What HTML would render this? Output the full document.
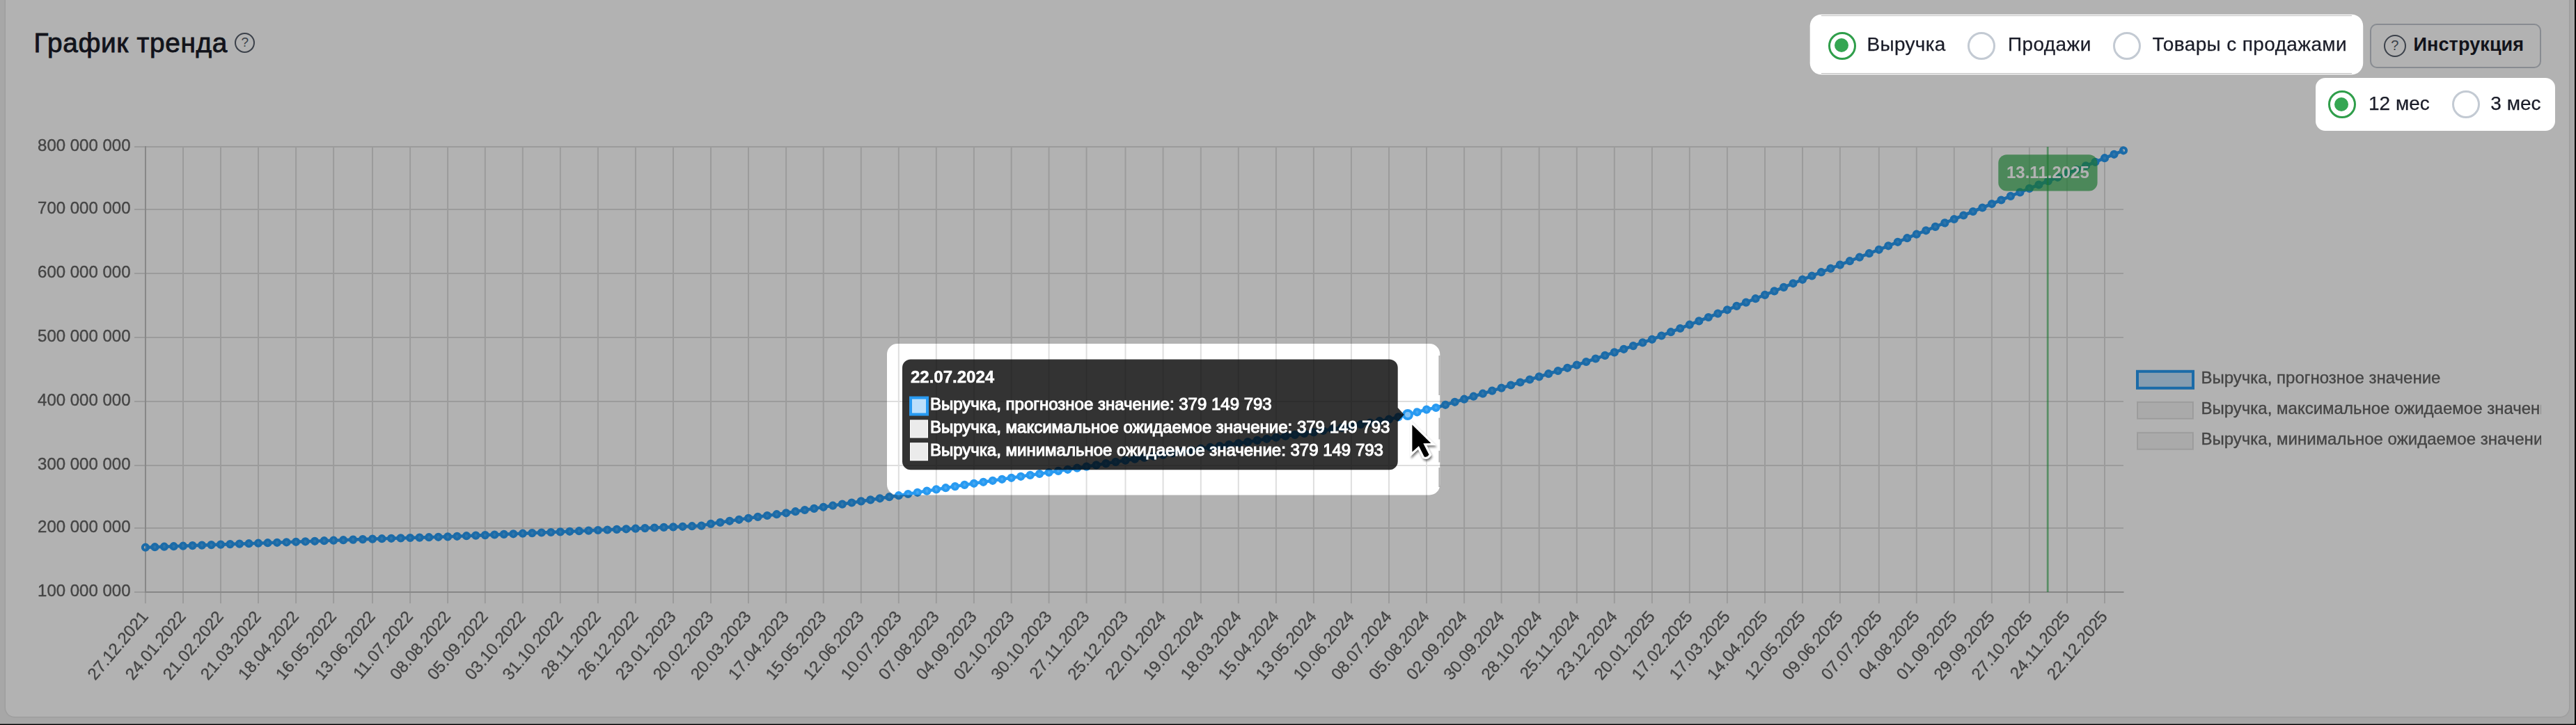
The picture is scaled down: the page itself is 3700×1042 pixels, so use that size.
<!DOCTYPE html>
<html lang="ru"><head><meta charset="utf-8"><title>График тренда</title>
<style>
html,body{margin:0;padding:0}
body{width:3700px;height:1042px;overflow:hidden;position:relative;background:#f0f0f0;font-family:"Liberation Sans",sans-serif}
.abs{position:absolute;left:0;top:0;will-change:transform}
.card{position:absolute;left:7.7px;top:-40px;width:3682.3px;height:1070.2px;background:#fff;border-radius:13px;box-shadow:0 0 3px rgba(0,0,0,0.18)}
.ttl{position:absolute;left:48.4px;top:39.2px;font-size:38.8px;line-height:46px;color:#1a1c28;letter-spacing:0.68px;-webkit-text-stroke:0.85px #1a1c28;white-space:nowrap}
.hic{position:absolute;box-sizing:border-box;border-radius:50%;border:2.6px solid #565e6b;color:#565e6b;text-align:center}
.rd{position:absolute;box-sizing:border-box;width:40px;height:40px;border-radius:50%;border:3.5px solid #c3cad3;background:#fff}
.rd.on{border-color:#2f9e4a}
.rd.on i{position:absolute;left:6.5px;top:6.5px;width:20px;height:20px;border-radius:50%;background:#35a652}
.lb{position:absolute;white-space:nowrap;color:#1a1c28;-webkit-text-stroke:0.25px #1a1c28}
.btn{position:absolute;box-sizing:border-box;left:3404px;top:34px;width:246px;height:64px;border:2px solid #c3c8d0;border-radius:10px;background:#fff}
.bl{position:absolute;left:0;top:1040px;width:3700px;height:2px;background:linear-gradient(rgba(0,0,0,0.45) 0,rgba(0,0,0,0.45) 50%,#000 50%,#000 100%)}
.br{position:absolute;left:3698px;top:0;width:2px;height:1042px;background:#000}
</style></head><body>
<div class="card"></div>
<div class="ttl">График тренда</div>
<div class="hic" style="left:337.2px;top:47.3px;width:29px;height:29px;font-size:19px;line-height:23.5px">?</div>
<svg class="abs" width="3700" height="1042" viewBox="0 0 3700 1042" style="font-family:'Liberation Sans',sans-serif">
<defs><clipPath id="cv"><rect x="0" y="0" width="3650" height="1042"/></clipPath></defs>
<path d="M208.9 211.0V867.3M263.0 211.0V867.3M317.0 211.0V867.3M371.0 211.0V867.3M425.1 211.0V867.3M479.1 211.0V867.3M535.0 211.0V867.3M589.1 211.0V867.3M643.1 211.0V867.3M696.8 211.0V867.3M750.8 211.0V867.3M804.8 211.0V867.3M858.9 211.0V867.3M912.9 211.0V867.3M967.0 211.0V867.3M1021.0 211.0V867.3M1075.0 211.0V867.3M1129.1 211.0V867.3M1182.7 211.0V867.3M1236.8 211.0V867.3M1290.8 211.0V867.3M1344.8 211.0V867.3M1398.9 211.0V867.3M1452.7 211.0V867.3M1506.6 211.0V867.3M1560.6 211.0V867.3M1616.5 211.0V867.3M1670.6 211.0V867.3M1724.8 211.0V867.3M1778.8 211.0V867.3M1832.9 211.0V867.3M1886.9 211.0V867.3M1940.9 211.0V867.3M1995.0 211.0V867.3M2049.0 211.0V867.3M2103.1 211.0V867.3M2156.6 211.0V867.3M2210.7 211.0V867.3M2264.8 211.0V867.3M2318.8 211.0V867.3M2372.9 211.0V867.3M2426.8 211.0V867.3M2480.9 211.0V867.3M2535.0 211.0V867.3M2589.0 211.0V867.3M2642.9 211.0V867.3M2698.8 211.0V867.3M2752.8 211.0V867.3M2806.8 211.0V867.3M2860.9 211.0V867.3M2914.9 211.0V867.3M2969.0 211.0V867.3M3023.0 211.0V867.3M193.0 851.0H3050.0M193.0 759.0H3050.0M193.0 669.0H3050.0M193.0 577.0H3050.0M193.0 484.9H3050.0M193.0 392.9H3050.0M193.0 301.0H3050.0M193.0 211.0H3050.0" stroke="rgba(0,0,0,0.13)" stroke-width="2" fill="none"/>
<path d="M209.0 210V852M208.0 851H3051.0" stroke="rgba(0,0,0,0.13)" stroke-width="2" fill="none"/>
<text x="187.5" y="857.3" text-anchor="end" font-size="24" fill="#636363" stroke="#636363" stroke-width="0.35">100 000 000</text>
<text x="187.5" y="765.3" text-anchor="end" font-size="24" fill="#636363" stroke="#636363" stroke-width="0.35">200 000 000</text>
<text x="187.5" y="675.3" text-anchor="end" font-size="24" fill="#636363" stroke="#636363" stroke-width="0.35">300 000 000</text>
<text x="187.5" y="583.3" text-anchor="end" font-size="24" fill="#636363" stroke="#636363" stroke-width="0.35">400 000 000</text>
<text x="187.5" y="491.2" text-anchor="end" font-size="24" fill="#636363" stroke="#636363" stroke-width="0.35">500 000 000</text>
<text x="187.5" y="399.2" text-anchor="end" font-size="24" fill="#636363" stroke="#636363" stroke-width="0.35">600 000 000</text>
<text x="187.5" y="307.3" text-anchor="end" font-size="24" fill="#636363" stroke="#636363" stroke-width="0.35">700 000 000</text>
<text x="187.5" y="217.3" text-anchor="end" font-size="24" fill="#636363" stroke="#636363" stroke-width="0.35">800 000 000</text>
<text transform="translate(196.6,872) rotate(-50)" x="0" y="22.8" text-anchor="end" font-size="24" fill="#636363" stroke="#636363" stroke-width="0.35">27.12.2021</text>
<text transform="translate(250.7,872) rotate(-50)" x="0" y="22.8" text-anchor="end" font-size="24" fill="#636363" stroke="#636363" stroke-width="0.35">24.01.2022</text>
<text transform="translate(304.7,872) rotate(-50)" x="0" y="22.8" text-anchor="end" font-size="24" fill="#636363" stroke="#636363" stroke-width="0.35">21.02.2022</text>
<text transform="translate(358.7,872) rotate(-50)" x="0" y="22.8" text-anchor="end" font-size="24" fill="#636363" stroke="#636363" stroke-width="0.35">21.03.2022</text>
<text transform="translate(412.8,872) rotate(-50)" x="0" y="22.8" text-anchor="end" font-size="24" fill="#636363" stroke="#636363" stroke-width="0.35">18.04.2022</text>
<text transform="translate(466.8,872) rotate(-50)" x="0" y="22.8" text-anchor="end" font-size="24" fill="#636363" stroke="#636363" stroke-width="0.35">16.05.2022</text>
<text transform="translate(522.7,872) rotate(-50)" x="0" y="22.8" text-anchor="end" font-size="24" fill="#636363" stroke="#636363" stroke-width="0.35">13.06.2022</text>
<text transform="translate(576.8,872) rotate(-50)" x="0" y="22.8" text-anchor="end" font-size="24" fill="#636363" stroke="#636363" stroke-width="0.35">11.07.2022</text>
<text transform="translate(630.8,872) rotate(-50)" x="0" y="22.8" text-anchor="end" font-size="24" fill="#636363" stroke="#636363" stroke-width="0.35">08.08.2022</text>
<text transform="translate(684.5,872) rotate(-50)" x="0" y="22.8" text-anchor="end" font-size="24" fill="#636363" stroke="#636363" stroke-width="0.35">05.09.2022</text>
<text transform="translate(738.5,872) rotate(-50)" x="0" y="22.8" text-anchor="end" font-size="24" fill="#636363" stroke="#636363" stroke-width="0.35">03.10.2022</text>
<text transform="translate(792.5,872) rotate(-50)" x="0" y="22.8" text-anchor="end" font-size="24" fill="#636363" stroke="#636363" stroke-width="0.35">31.10.2022</text>
<text transform="translate(846.6,872) rotate(-50)" x="0" y="22.8" text-anchor="end" font-size="24" fill="#636363" stroke="#636363" stroke-width="0.35">28.11.2022</text>
<text transform="translate(900.6,872) rotate(-50)" x="0" y="22.8" text-anchor="end" font-size="24" fill="#636363" stroke="#636363" stroke-width="0.35">26.12.2022</text>
<text transform="translate(954.7,872) rotate(-50)" x="0" y="22.8" text-anchor="end" font-size="24" fill="#636363" stroke="#636363" stroke-width="0.35">23.01.2023</text>
<text transform="translate(1008.7,872) rotate(-50)" x="0" y="22.8" text-anchor="end" font-size="24" fill="#636363" stroke="#636363" stroke-width="0.35">20.02.2023</text>
<text transform="translate(1062.7,872) rotate(-50)" x="0" y="22.8" text-anchor="end" font-size="24" fill="#636363" stroke="#636363" stroke-width="0.35">20.03.2023</text>
<text transform="translate(1116.8,872) rotate(-50)" x="0" y="22.8" text-anchor="end" font-size="24" fill="#636363" stroke="#636363" stroke-width="0.35">17.04.2023</text>
<text transform="translate(1170.4,872) rotate(-50)" x="0" y="22.8" text-anchor="end" font-size="24" fill="#636363" stroke="#636363" stroke-width="0.35">15.05.2023</text>
<text transform="translate(1224.5,872) rotate(-50)" x="0" y="22.8" text-anchor="end" font-size="24" fill="#636363" stroke="#636363" stroke-width="0.35">12.06.2023</text>
<text transform="translate(1278.5,872) rotate(-50)" x="0" y="22.8" text-anchor="end" font-size="24" fill="#636363" stroke="#636363" stroke-width="0.35">10.07.2023</text>
<text transform="translate(1332.5,872) rotate(-50)" x="0" y="22.8" text-anchor="end" font-size="24" fill="#636363" stroke="#636363" stroke-width="0.35">07.08.2023</text>
<text transform="translate(1386.6,872) rotate(-50)" x="0" y="22.8" text-anchor="end" font-size="24" fill="#636363" stroke="#636363" stroke-width="0.35">04.09.2023</text>
<text transform="translate(1440.4,872) rotate(-50)" x="0" y="22.8" text-anchor="end" font-size="24" fill="#636363" stroke="#636363" stroke-width="0.35">02.10.2023</text>
<text transform="translate(1494.3,872) rotate(-50)" x="0" y="22.8" text-anchor="end" font-size="24" fill="#636363" stroke="#636363" stroke-width="0.35">30.10.2023</text>
<text transform="translate(1548.3,872) rotate(-50)" x="0" y="22.8" text-anchor="end" font-size="24" fill="#636363" stroke="#636363" stroke-width="0.35">27.11.2023</text>
<text transform="translate(1604.2,872) rotate(-50)" x="0" y="22.8" text-anchor="end" font-size="24" fill="#636363" stroke="#636363" stroke-width="0.35">25.12.2023</text>
<text transform="translate(1658.3,872) rotate(-50)" x="0" y="22.8" text-anchor="end" font-size="24" fill="#636363" stroke="#636363" stroke-width="0.35">22.01.2024</text>
<text transform="translate(1712.5,872) rotate(-50)" x="0" y="22.8" text-anchor="end" font-size="24" fill="#636363" stroke="#636363" stroke-width="0.35">19.02.2024</text>
<text transform="translate(1766.5,872) rotate(-50)" x="0" y="22.8" text-anchor="end" font-size="24" fill="#636363" stroke="#636363" stroke-width="0.35">18.03.2024</text>
<text transform="translate(1820.6,872) rotate(-50)" x="0" y="22.8" text-anchor="end" font-size="24" fill="#636363" stroke="#636363" stroke-width="0.35">15.04.2024</text>
<text transform="translate(1874.6,872) rotate(-50)" x="0" y="22.8" text-anchor="end" font-size="24" fill="#636363" stroke="#636363" stroke-width="0.35">13.05.2024</text>
<text transform="translate(1928.6,872) rotate(-50)" x="0" y="22.8" text-anchor="end" font-size="24" fill="#636363" stroke="#636363" stroke-width="0.35">10.06.2024</text>
<text transform="translate(1982.7,872) rotate(-50)" x="0" y="22.8" text-anchor="end" font-size="24" fill="#636363" stroke="#636363" stroke-width="0.35">08.07.2024</text>
<text transform="translate(2036.7,872) rotate(-50)" x="0" y="22.8" text-anchor="end" font-size="24" fill="#636363" stroke="#636363" stroke-width="0.35">05.08.2024</text>
<text transform="translate(2090.8,872) rotate(-50)" x="0" y="22.8" text-anchor="end" font-size="24" fill="#636363" stroke="#636363" stroke-width="0.35">02.09.2024</text>
<text transform="translate(2144.3,872) rotate(-50)" x="0" y="22.8" text-anchor="end" font-size="24" fill="#636363" stroke="#636363" stroke-width="0.35">30.09.2024</text>
<text transform="translate(2198.4,872) rotate(-50)" x="0" y="22.8" text-anchor="end" font-size="24" fill="#636363" stroke="#636363" stroke-width="0.35">28.10.2024</text>
<text transform="translate(2252.5,872) rotate(-50)" x="0" y="22.8" text-anchor="end" font-size="24" fill="#636363" stroke="#636363" stroke-width="0.35">25.11.2024</text>
<text transform="translate(2306.5,872) rotate(-50)" x="0" y="22.8" text-anchor="end" font-size="24" fill="#636363" stroke="#636363" stroke-width="0.35">23.12.2024</text>
<text transform="translate(2360.6,872) rotate(-50)" x="0" y="22.8" text-anchor="end" font-size="24" fill="#636363" stroke="#636363" stroke-width="0.35">20.01.2025</text>
<text transform="translate(2414.5,872) rotate(-50)" x="0" y="22.8" text-anchor="end" font-size="24" fill="#636363" stroke="#636363" stroke-width="0.35">17.02.2025</text>
<text transform="translate(2468.6,872) rotate(-50)" x="0" y="22.8" text-anchor="end" font-size="24" fill="#636363" stroke="#636363" stroke-width="0.35">17.03.2025</text>
<text transform="translate(2522.7,872) rotate(-50)" x="0" y="22.8" text-anchor="end" font-size="24" fill="#636363" stroke="#636363" stroke-width="0.35">14.04.2025</text>
<text transform="translate(2576.7,872) rotate(-50)" x="0" y="22.8" text-anchor="end" font-size="24" fill="#636363" stroke="#636363" stroke-width="0.35">12.05.2025</text>
<text transform="translate(2630.6,872) rotate(-50)" x="0" y="22.8" text-anchor="end" font-size="24" fill="#636363" stroke="#636363" stroke-width="0.35">09.06.2025</text>
<text transform="translate(2686.5,872) rotate(-50)" x="0" y="22.8" text-anchor="end" font-size="24" fill="#636363" stroke="#636363" stroke-width="0.35">07.07.2025</text>
<text transform="translate(2740.5,872) rotate(-50)" x="0" y="22.8" text-anchor="end" font-size="24" fill="#636363" stroke="#636363" stroke-width="0.35">04.08.2025</text>
<text transform="translate(2794.5,872) rotate(-50)" x="0" y="22.8" text-anchor="end" font-size="24" fill="#636363" stroke="#636363" stroke-width="0.35">01.09.2025</text>
<text transform="translate(2848.6,872) rotate(-50)" x="0" y="22.8" text-anchor="end" font-size="24" fill="#636363" stroke="#636363" stroke-width="0.35">29.09.2025</text>
<text transform="translate(2902.6,872) rotate(-50)" x="0" y="22.8" text-anchor="end" font-size="24" fill="#636363" stroke="#636363" stroke-width="0.35">27.10.2025</text>
<text transform="translate(2956.7,872) rotate(-50)" x="0" y="22.8" text-anchor="end" font-size="24" fill="#636363" stroke="#636363" stroke-width="0.35">24.11.2025</text>
<text transform="translate(3010.7,872) rotate(-50)" x="0" y="22.8" text-anchor="end" font-size="24" fill="#636363" stroke="#636363" stroke-width="0.35">22.12.2025</text>
<path d="M208.9 786.7 L222.4 786.2 L235.9 785.7 L249.5 785.2 L263.0 784.7 L276.5 784.1 L290.0 783.6 L303.5 783.1 L317.0 782.6 L330.5 782.1 L344.0 781.6 L357.5 781.2 L371.0 780.7 L384.5 780.2 L398.0 779.8 L411.5 779.3 L425.1 778.8 L438.6 778.3 L452.1 777.8 L465.6 777.2 L479.1 776.7 L493.1 776.2 L507.1 775.6 L521.0 775.1 L535.0 774.6 L548.5 774.2 L562.0 773.8 L575.6 773.4 L589.1 773.0 L602.6 772.6 L616.1 772.2 L629.6 771.8 L643.1 771.4 L656.5 770.8 L670.0 770.2 L683.4 769.6 L696.8 769.1 L710.3 768.5 L723.8 767.9 L737.3 767.3 L750.8 766.7 L764.3 766.1 L777.8 765.5 L791.3 765.0 L804.8 764.4 L818.3 763.8 L831.8 763.2 L845.4 762.6 L858.9 762.0 L872.4 761.5 L885.9 760.9 L899.4 760.3 L912.9 759.7 L926.4 759.1 L940.0 758.5 L953.5 757.9 L967.0 757.4 L980.5 756.8 L994.0 756.2 L1007.5 755.6 L1021.0 752.9 L1034.5 750.9 L1048.0 748.8 L1061.5 746.8 L1075.0 744.8 L1088.5 742.9 L1102.0 741.0 L1115.6 739.2 L1129.1 737.3 L1142.5 735.2 L1155.9 733.0 L1169.3 730.9 L1182.7 728.8 L1196.2 726.7 L1209.8 724.6 L1223.3 722.5 L1236.8 720.4 L1250.3 718.4 L1263.8 716.3 L1277.3 714.2 L1290.8 712.2 L1304.3 710.0 L1317.8 707.8 L1331.3 705.6 L1344.8 703.4 L1358.3 701.2 L1371.8 699.1 L1385.4 696.9 L1398.9 694.8 L1412.4 692.8 L1425.8 690.8 L1439.2 688.8 L1452.7 686.8 L1466.2 684.8 L1479.7 682.9 L1493.1 681.0 L1506.6 679.0 L1520.1 676.9 L1533.6 674.8 L1547.1 672.7 L1560.6 670.6 L1574.6 668.4 L1588.5 666.1 L1602.5 663.9 L1616.5 661.6 L1630.0 659.6 L1643.5 657.6 L1657.1 655.6 L1670.6 653.6 L1684.1 651.4 L1697.7 649.2 L1711.2 646.9 L1724.8 644.7 L1738.3 642.8 L1751.8 641.0 L1765.3 639.1 L1778.8 637.2 L1792.3 635.1 L1805.8 632.9 L1819.4 630.8 L1832.9 628.6 L1846.4 626.7 L1859.9 624.9 L1873.4 623.0 L1886.9 621.1 L1900.4 619.0 L1913.9 616.8 L1927.4 614.6 L1940.9 612.5 L1954.4 610.0 L1968.0 607.6 L1981.5 605.2 L1995.0 602.7 L2008.5 599.4 L2022.0 596.0 L2035.5 592.3 L2049.0 588.6 L2062.5 586.0 L2076.1 581.8 L2089.6 577.8 L2103.1 573.7 L2116.5 569.7 L2129.8 565.7 L2143.2 561.6 L2156.6 557.6 L2170.1 553.5 L2183.6 549.5 L2197.2 545.5 L2210.7 541.4 L2224.2 537.2 L2237.8 533.0 L2251.3 528.8 L2264.8 524.6 L2278.3 520.0 L2291.8 515.5 L2305.3 510.9 L2318.8 506.4 L2332.3 501.8 L2345.9 497.1 L2359.4 492.4 L2372.9 487.8 L2386.4 482.5 L2399.9 477.2 L2413.3 472.0 L2426.8 466.7 L2440.3 461.4 L2453.9 456.0 L2467.4 450.6 L2480.9 445.3 L2494.4 439.9 L2507.9 434.6 L2521.5 429.2 L2535.0 423.9 L2548.5 418.4 L2562.0 412.9 L2575.5 407.3 L2589.0 401.8 L2602.5 396.5 L2615.9 391.2 L2629.4 385.9 L2642.9 380.6 L2656.9 375.2 L2670.9 369.7 L2684.8 364.2 L2698.8 358.8 L2712.3 353.3 L2725.8 347.8 L2739.3 342.2 L2752.8 336.7 L2766.3 331.3 L2779.8 325.9 L2793.3 320.4 L2806.8 315.0 L2820.3 309.5 L2833.9 304.0 L2847.4 298.5 L2860.9 293.0 L2874.4 287.5 L2887.9 281.9 L2901.4 276.4 L2914.9 270.9 L2928.4 265.5 L2941.9 260.1 L2955.5 254.8 L2969.0 249.4 L2982.5 243.8 L2996.0 238.3 L3009.5 232.8 L3023.0 227.2 L3036.5 221.8 L3050.0 216.3" stroke="rgb(40,154,241)" stroke-width="4.6" fill="none" stroke-linejoin="round"/>
<g fill="rgba(255,255,255,0.14)" stroke="rgb(40,154,241)" stroke-width="4">
<circle cx="208.9" cy="786.7" r="4.1"/>
<circle cx="222.4" cy="786.2" r="4.1"/>
<circle cx="235.9" cy="785.7" r="4.1"/>
<circle cx="249.5" cy="785.2" r="4.1"/>
<circle cx="263.0" cy="784.7" r="4.1"/>
<circle cx="276.5" cy="784.1" r="4.1"/>
<circle cx="290.0" cy="783.6" r="4.1"/>
<circle cx="303.5" cy="783.1" r="4.1"/>
<circle cx="317.0" cy="782.6" r="4.1"/>
<circle cx="330.5" cy="782.1" r="4.1"/>
<circle cx="344.0" cy="781.6" r="4.1"/>
<circle cx="357.5" cy="781.2" r="4.1"/>
<circle cx="371.0" cy="780.7" r="4.1"/>
<circle cx="384.5" cy="780.2" r="4.1"/>
<circle cx="398.0" cy="779.8" r="4.1"/>
<circle cx="411.5" cy="779.3" r="4.1"/>
<circle cx="425.1" cy="778.8" r="4.1"/>
<circle cx="438.6" cy="778.3" r="4.1"/>
<circle cx="452.1" cy="777.8" r="4.1"/>
<circle cx="465.6" cy="777.2" r="4.1"/>
<circle cx="479.1" cy="776.7" r="4.1"/>
<circle cx="493.1" cy="776.2" r="4.1"/>
<circle cx="507.1" cy="775.6" r="4.1"/>
<circle cx="521.0" cy="775.1" r="4.1"/>
<circle cx="535.0" cy="774.6" r="4.1"/>
<circle cx="548.5" cy="774.2" r="4.1"/>
<circle cx="562.0" cy="773.8" r="4.1"/>
<circle cx="575.6" cy="773.4" r="4.1"/>
<circle cx="589.1" cy="773.0" r="4.1"/>
<circle cx="602.6" cy="772.6" r="4.1"/>
<circle cx="616.1" cy="772.2" r="4.1"/>
<circle cx="629.6" cy="771.8" r="4.1"/>
<circle cx="643.1" cy="771.4" r="4.1"/>
<circle cx="656.5" cy="770.8" r="4.1"/>
<circle cx="670.0" cy="770.2" r="4.1"/>
<circle cx="683.4" cy="769.6" r="4.1"/>
<circle cx="696.8" cy="769.1" r="4.1"/>
<circle cx="710.3" cy="768.5" r="4.1"/>
<circle cx="723.8" cy="767.9" r="4.1"/>
<circle cx="737.3" cy="767.3" r="4.1"/>
<circle cx="750.8" cy="766.7" r="4.1"/>
<circle cx="764.3" cy="766.1" r="4.1"/>
<circle cx="777.8" cy="765.5" r="4.1"/>
<circle cx="791.3" cy="765.0" r="4.1"/>
<circle cx="804.8" cy="764.4" r="4.1"/>
<circle cx="818.3" cy="763.8" r="4.1"/>
<circle cx="831.8" cy="763.2" r="4.1"/>
<circle cx="845.4" cy="762.6" r="4.1"/>
<circle cx="858.9" cy="762.0" r="4.1"/>
<circle cx="872.4" cy="761.5" r="4.1"/>
<circle cx="885.9" cy="760.9" r="4.1"/>
<circle cx="899.4" cy="760.3" r="4.1"/>
<circle cx="912.9" cy="759.7" r="4.1"/>
<circle cx="926.4" cy="759.1" r="4.1"/>
<circle cx="940.0" cy="758.5" r="4.1"/>
<circle cx="953.5" cy="757.9" r="4.1"/>
<circle cx="967.0" cy="757.4" r="4.1"/>
<circle cx="980.5" cy="756.8" r="4.1"/>
<circle cx="994.0" cy="756.2" r="4.1"/>
<circle cx="1007.5" cy="755.6" r="4.1"/>
<circle cx="1021.0" cy="752.9" r="4.1"/>
<circle cx="1034.5" cy="750.9" r="4.1"/>
<circle cx="1048.0" cy="748.8" r="4.1"/>
<circle cx="1061.5" cy="746.8" r="4.1"/>
<circle cx="1075.0" cy="744.8" r="4.1"/>
<circle cx="1088.5" cy="742.9" r="4.1"/>
<circle cx="1102.0" cy="741.0" r="4.1"/>
<circle cx="1115.6" cy="739.2" r="4.1"/>
<circle cx="1129.1" cy="737.3" r="4.1"/>
<circle cx="1142.5" cy="735.2" r="4.1"/>
<circle cx="1155.9" cy="733.0" r="4.1"/>
<circle cx="1169.3" cy="730.9" r="4.1"/>
<circle cx="1182.7" cy="728.8" r="4.1"/>
<circle cx="1196.2" cy="726.7" r="4.1"/>
<circle cx="1209.8" cy="724.6" r="4.1"/>
<circle cx="1223.3" cy="722.5" r="4.1"/>
<circle cx="1236.8" cy="720.4" r="4.1"/>
<circle cx="1250.3" cy="718.4" r="4.1"/>
<circle cx="1263.8" cy="716.3" r="4.1"/>
<circle cx="1277.3" cy="714.2" r="4.1"/>
<circle cx="1290.8" cy="712.2" r="4.1"/>
<circle cx="1304.3" cy="710.0" r="4.1"/>
<circle cx="1317.8" cy="707.8" r="4.1"/>
<circle cx="1331.3" cy="705.6" r="4.1"/>
<circle cx="1344.8" cy="703.4" r="4.1"/>
<circle cx="1358.3" cy="701.2" r="4.1"/>
<circle cx="1371.8" cy="699.1" r="4.1"/>
<circle cx="1385.4" cy="696.9" r="4.1"/>
<circle cx="1398.9" cy="694.8" r="4.1"/>
<circle cx="1412.4" cy="692.8" r="4.1"/>
<circle cx="1425.8" cy="690.8" r="4.1"/>
<circle cx="1439.2" cy="688.8" r="4.1"/>
<circle cx="1452.7" cy="686.8" r="4.1"/>
<circle cx="1466.2" cy="684.8" r="4.1"/>
<circle cx="1479.7" cy="682.9" r="4.1"/>
<circle cx="1493.1" cy="681.0" r="4.1"/>
<circle cx="1506.6" cy="679.0" r="4.1"/>
<circle cx="1520.1" cy="676.9" r="4.1"/>
<circle cx="1533.6" cy="674.8" r="4.1"/>
<circle cx="1547.1" cy="672.7" r="4.1"/>
<circle cx="1560.6" cy="670.6" r="4.1"/>
<circle cx="1574.6" cy="668.4" r="4.1"/>
<circle cx="1588.5" cy="666.1" r="4.1"/>
<circle cx="1602.5" cy="663.9" r="4.1"/>
<circle cx="1616.5" cy="661.6" r="4.1"/>
<circle cx="1630.0" cy="659.6" r="4.1"/>
<circle cx="1643.5" cy="657.6" r="4.1"/>
<circle cx="1657.1" cy="655.6" r="4.1"/>
<circle cx="1670.6" cy="653.6" r="4.1"/>
<circle cx="1684.1" cy="651.4" r="4.1"/>
<circle cx="1697.7" cy="649.2" r="4.1"/>
<circle cx="1711.2" cy="646.9" r="4.1"/>
<circle cx="1724.8" cy="644.7" r="4.1"/>
<circle cx="1738.3" cy="642.8" r="4.1"/>
<circle cx="1751.8" cy="641.0" r="4.1"/>
<circle cx="1765.3" cy="639.1" r="4.1"/>
<circle cx="1778.8" cy="637.2" r="4.1"/>
<circle cx="1792.3" cy="635.1" r="4.1"/>
<circle cx="1805.8" cy="632.9" r="4.1"/>
<circle cx="1819.4" cy="630.8" r="4.1"/>
<circle cx="1832.9" cy="628.6" r="4.1"/>
<circle cx="1846.4" cy="626.7" r="4.1"/>
<circle cx="1859.9" cy="624.9" r="4.1"/>
<circle cx="1873.4" cy="623.0" r="4.1"/>
<circle cx="1886.9" cy="621.1" r="4.1"/>
<circle cx="1900.4" cy="619.0" r="4.1"/>
<circle cx="1913.9" cy="616.8" r="4.1"/>
<circle cx="1927.4" cy="614.6" r="4.1"/>
<circle cx="1940.9" cy="612.5" r="4.1"/>
<circle cx="1954.4" cy="610.0" r="4.1"/>
<circle cx="1968.0" cy="607.6" r="4.1"/>
<circle cx="1981.5" cy="605.2" r="4.1"/>
<circle cx="1995.0" cy="602.7" r="4.1"/>
<circle cx="2008.5" cy="599.4" r="4.1"/>
<circle cx="2022.0" cy="596.0" r="6" fill="rgb(130,195,246)"/>
<circle cx="2035.5" cy="592.3" r="4.1"/>
<circle cx="2049.0" cy="588.6" r="4.1"/>
<circle cx="2062.5" cy="586.0" r="4.1"/>
<circle cx="2076.1" cy="581.8" r="4.1"/>
<circle cx="2089.6" cy="577.8" r="4.1"/>
<circle cx="2103.1" cy="573.7" r="4.1"/>
<circle cx="2116.5" cy="569.7" r="4.1"/>
<circle cx="2129.8" cy="565.7" r="4.1"/>
<circle cx="2143.2" cy="561.6" r="4.1"/>
<circle cx="2156.6" cy="557.6" r="4.1"/>
<circle cx="2170.1" cy="553.5" r="4.1"/>
<circle cx="2183.6" cy="549.5" r="4.1"/>
<circle cx="2197.2" cy="545.5" r="4.1"/>
<circle cx="2210.7" cy="541.4" r="4.1"/>
<circle cx="2224.2" cy="537.2" r="4.1"/>
<circle cx="2237.8" cy="533.0" r="4.1"/>
<circle cx="2251.3" cy="528.8" r="4.1"/>
<circle cx="2264.8" cy="524.6" r="4.1"/>
<circle cx="2278.3" cy="520.0" r="4.1"/>
<circle cx="2291.8" cy="515.5" r="4.1"/>
<circle cx="2305.3" cy="510.9" r="4.1"/>
<circle cx="2318.8" cy="506.4" r="4.1"/>
<circle cx="2332.3" cy="501.8" r="4.1"/>
<circle cx="2345.9" cy="497.1" r="4.1"/>
<circle cx="2359.4" cy="492.4" r="4.1"/>
<circle cx="2372.9" cy="487.8" r="4.1"/>
<circle cx="2386.4" cy="482.5" r="4.1"/>
<circle cx="2399.9" cy="477.2" r="4.1"/>
<circle cx="2413.3" cy="472.0" r="4.1"/>
<circle cx="2426.8" cy="466.7" r="4.1"/>
<circle cx="2440.3" cy="461.4" r="4.1"/>
<circle cx="2453.9" cy="456.0" r="4.1"/>
<circle cx="2467.4" cy="450.6" r="4.1"/>
<circle cx="2480.9" cy="445.3" r="4.1"/>
<circle cx="2494.4" cy="439.9" r="4.1"/>
<circle cx="2507.9" cy="434.6" r="4.1"/>
<circle cx="2521.5" cy="429.2" r="4.1"/>
<circle cx="2535.0" cy="423.9" r="4.1"/>
<circle cx="2548.5" cy="418.4" r="4.1"/>
<circle cx="2562.0" cy="412.9" r="4.1"/>
<circle cx="2575.5" cy="407.3" r="4.1"/>
<circle cx="2589.0" cy="401.8" r="4.1"/>
<circle cx="2602.5" cy="396.5" r="4.1"/>
<circle cx="2615.9" cy="391.2" r="4.1"/>
<circle cx="2629.4" cy="385.9" r="4.1"/>
<circle cx="2642.9" cy="380.6" r="4.1"/>
<circle cx="2656.9" cy="375.2" r="4.1"/>
<circle cx="2670.9" cy="369.7" r="4.1"/>
<circle cx="2684.8" cy="364.2" r="4.1"/>
<circle cx="2698.8" cy="358.8" r="4.1"/>
<circle cx="2712.3" cy="353.3" r="4.1"/>
<circle cx="2725.8" cy="347.8" r="4.1"/>
<circle cx="2739.3" cy="342.2" r="4.1"/>
<circle cx="2752.8" cy="336.7" r="4.1"/>
<circle cx="2766.3" cy="331.3" r="4.1"/>
<circle cx="2779.8" cy="325.9" r="4.1"/>
<circle cx="2793.3" cy="320.4" r="4.1"/>
<circle cx="2806.8" cy="315.0" r="4.1"/>
<circle cx="2820.3" cy="309.5" r="4.1"/>
<circle cx="2833.9" cy="304.0" r="4.1"/>
<circle cx="2847.4" cy="298.5" r="4.1"/>
<circle cx="2860.9" cy="293.0" r="4.1"/>
<circle cx="2874.4" cy="287.5" r="4.1"/>
<circle cx="2887.9" cy="281.9" r="4.1"/>
<circle cx="2901.4" cy="276.4" r="4.1"/>
<circle cx="2914.9" cy="270.9" r="4.1"/>
<circle cx="2928.4" cy="265.5" r="4.1"/>
<circle cx="2941.9" cy="260.1" r="4.1"/>
<circle cx="2955.5" cy="254.8" r="4.1"/>
<circle cx="2969.0" cy="249.4" r="4.1"/>
<circle cx="2982.5" cy="243.8" r="4.1"/>
<circle cx="2996.0" cy="238.3" r="4.1"/>
<circle cx="3009.5" cy="232.8" r="4.1"/>
<circle cx="3023.0" cy="227.2" r="4.1"/>
<circle cx="3036.5" cy="221.8" r="4.1"/>
<circle cx="3050.0" cy="216.3" r="4.1"/>
</g>
<path d="M2941.2 211V851" stroke="rgba(40,167,69,0.58)" stroke-width="2.8"/>
<rect x="2870.3" y="222.2" width="142.3" height="52.4" rx="12" fill="rgba(40,167,69,0.68)"/>
<text x="2941.4" y="256.2" text-anchor="middle" font-size="24" font-weight="bold" fill="#fff">13.11.2025</text>
<g clip-path="url(#cv)">
<rect x="3070" y="533.8" width="80" height="24" fill="rgba(33,150,243,0.27)" stroke="rgb(40,154,241)" stroke-width="4"/>
<rect x="3070" y="577.8" width="80" height="24" fill="rgba(0,0,0,0.045)" stroke="rgba(0,0,0,0.1)" stroke-width="2"/>
<rect x="3070" y="621.8" width="80" height="24" fill="rgba(0,0,0,0.045)" stroke="rgba(0,0,0,0.1)" stroke-width="2"/>
<text x="3161.5" y="551.4" font-size="24" fill="#636363" stroke="#636363" stroke-width="0.35">Выручка, прогнозное значение</text>
<text x="3161.5" y="595.4" font-size="24" fill="#636363" stroke="#636363" stroke-width="0.35">Выручка, максимальное ожидаемое значение</text>
<text x="3161.5" y="639.4" font-size="24" fill="#636363" stroke="#636363" stroke-width="0.35">Выручка, минимальное ожидаемое значение</text>
</g>
<path d="M1308.0 516.5 h687.7 a12 12 0 0 1 12 12 V586 L2016.8 596 L2007.7 606 V663.3 a12 12 0 0 1 -12 12 h-687.7 a12 12 0 0 1 -12 -12 v-134.8 a12 12 0 0 1 12 -12z" fill="rgba(0,0,0,0.8)"/>
<text x="1308" y="549.8" font-size="24" font-weight="bold" fill="#fff" stroke="#fff" stroke-width="0.5">22.07.2024</text>
<rect x="1308" y="571.6" width="24" height="24" fill="#fff"/>
<rect x="1308" y="571.6" width="24" height="24" fill="rgba(33,150,243,0.3)" stroke="rgb(40,154,241)" stroke-width="4"/>
<text x="1336" y="589.4" font-size="24" fill="#fff" stroke="#fff" stroke-width="1.1">Выручка, прогнозное значение: 379 149 793</text>
<rect x="1307" y="603.4" width="26" height="26" fill="#fff"/>
<rect x="1308" y="604.4" width="24" height="24" fill="rgba(0,0,0,0.08)"/>
<text x="1336" y="622.2" font-size="24" fill="#fff" stroke="#fff" stroke-width="1.1">Выручка, максимальное ожидаемое значение: 379 149 793</text>
<rect x="1307" y="636.2" width="26" height="26" fill="#fff"/>
<rect x="1308" y="637.2" width="24" height="24" fill="rgba(0,0,0,0.08)"/>
<text x="1336" y="655.0" font-size="24" fill="#fff" stroke="#fff" stroke-width="1.1">Выручка, минимальное ожидаемое значение: 379 149 793</text>
</svg>
<div class="rd on" style="left:2625.7px;top:45.7px"><i></i></div><div class="lb" style="left:2681.5px;top:50.4px;font-size:28px;line-height:28px;letter-spacing:0.3px">Выручка</div><div class="rd" style="left:2825.6px;top:45.7px"></div><div class="lb" style="left:2884.0px;top:50.4px;font-size:28px;line-height:28px;letter-spacing:0.4px">Продажи</div><div class="rd" style="left:3035.4px;top:45.7px"></div><div class="lb" style="left:3091.5px;top:50.4px;font-size:28px;line-height:28px;letter-spacing:0.38px">Товары с продажами</div><div class="rd on" style="left:3343.9px;top:130.0px"><i></i></div><div class="lb" style="left:3402.0px;top:134.7px;font-size:28px;line-height:28px;letter-spacing:0px">12 мес</div><div class="rd" style="left:3521.8px;top:130.0px"></div><div class="lb" style="left:3577.3px;top:134.7px;font-size:28px;line-height:28px;letter-spacing:0px">3 мес</div>
<div class="btn"></div>
<div class="hic" style="left:3423.7px;top:49.7px;width:32.2px;height:32.2px;font-size:20px;line-height:26.5px">?</div>
<div class="lb" style="left:3466.6px;top:50.9px;font-size:27px;line-height:27px;font-weight:bold;letter-spacing:0.1px;-webkit-text-stroke:0">Инструкция</div>
<svg class="abs" width="3700" height="1042" viewBox="0 0 3700 1042"><path d="M0 0H3700V1042H0ZM2616.2 20.7 H3377.7 A16.5 16.5 0 0 1 3394.2 37.2 V90.8 A16.5 16.5 0 0 1 3377.7 107.3 H2616.2 A16.5 16.5 0 0 1 2599.7 90.8 V37.2 A16.5 16.5 0 0 1 2616.2 20.7ZM3340.0 112.0 H3656.0 A14 14 0 0 1 3670.0 126.0 V174.0 A14 14 0 0 1 3656.0 188.0 H3340.0 A14 14 0 0 1 3326.0 174.0 V126.0 A14 14 0 0 1 3340.0 112.0ZM1289.0 494.0 H2053.3 A15 15 0 0 1 2068.3 509.0 V696.5 A15 15 0 0 1 2053.3 711.5 H1289.0 A15 15 0 0 1 1274.0 696.5 V509.0 A15 15 0 0 1 1289.0 494.0Z" fill="rgba(0,0,0,0.3)" fill-rule="evenodd"/><path d="M2616 22.6H3378M2616 105.5H3378" stroke="rgba(0,0,0,0.3)" stroke-width="0.9"/><path d="M2067.3 511V568M2067.3 600.5V631.6M2067.3 647.7V664.5M2067.3 672V700" stroke="rgba(0,0,0,0.3)" stroke-width="1.8"/></svg>
<svg class="abs" width="3700" height="1042" viewBox="0 0 3700 1042">
<defs><filter id="cs" x="-50%" y="-50%" width="200%" height="200%"><feGaussianBlur stdDeviation="1.6"/></filter></defs>
<path d="M2028.4 610.5 V649.6 L2037.9 640.9 L2045.6 656.2 Q2049.5 658 2052.6 653.6 L2044.3 637.2 L2055.3 636.9 Z" transform="translate(1.5,3)" fill="rgba(0,0,0,0.45)" stroke="rgba(0,0,0,0.45)" stroke-width="6" filter="url(#cs)"/>
<path d="M2028.4 610.5 V649.6 L2037.9 640.9 L2045.6 656.2 Q2049.5 658 2052.6 653.6 L2044.3 637.2 L2055.3 636.9 Z" fill="#fff" stroke="#fff" stroke-width="6.4" stroke-linejoin="miter" stroke-miterlimit="6"/>
<path d="M2028.4 610.5 V649.6 L2037.9 640.9 L2045.6 656.2 Q2049.5 658 2052.6 653.6 L2044.3 637.2 L2055.3 636.9 Z" fill="#000"/>
</svg>
<div class="bl"></div><div class="br"></div>
</body></html>
